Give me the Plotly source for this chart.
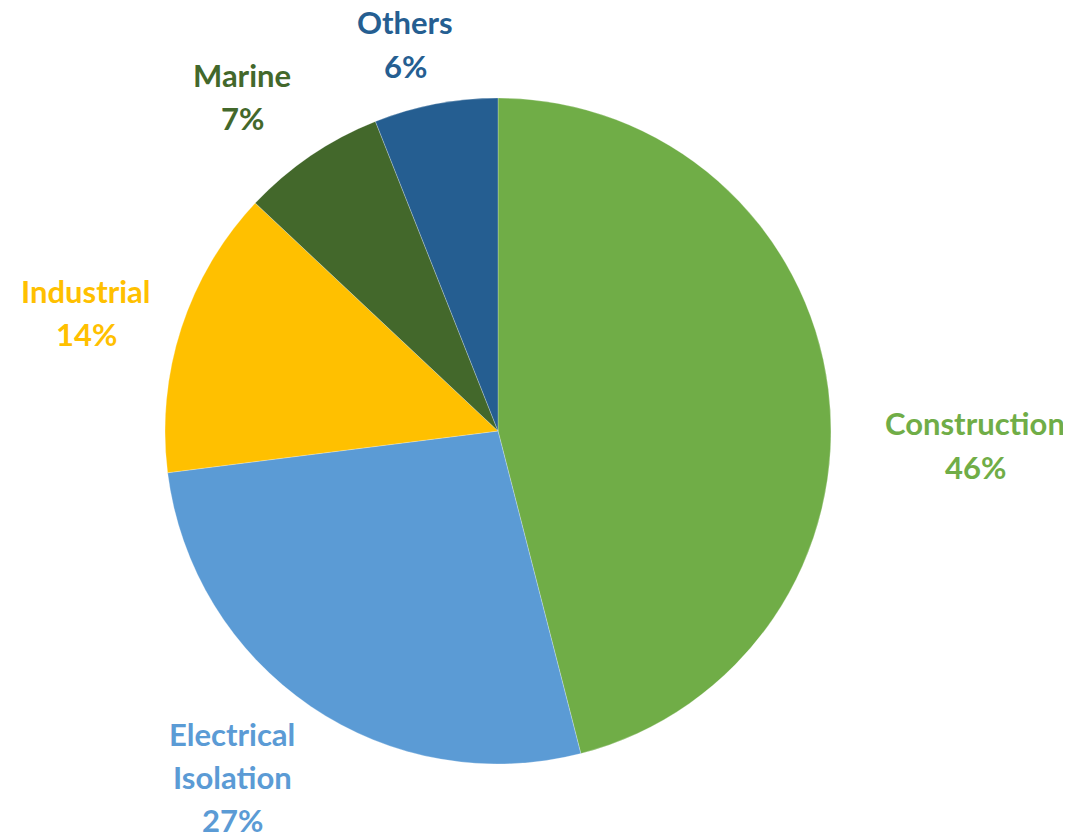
import plotly.graph_objects as go

categories = ["Construction", "Electrical Isolation", "Industrial", "Marine", "Others"]
values = [46, 27, 14, 7, 6]
colors = ["#70AD47", "#5B9BD5", "#FFC000", "#43682B", "#255E91"]

W, H = 1071, 835
OFF = 8  # page body margin offset
cx, cy, r = 498 - OFF, 431 - OFF, 333

# label text-line layout (pixel centres of each text line in the screenshot)
label_lines = {
    "Construction": [("Construction", 975, 423), ("46%", 975, 467)],
    "Electrical Isolation": [("Electrical", 232, 734), ("Isolation", 232, 777), ("27%", 232, 820)],
    "Industrial": [("Industrial", 86, 291), ("14%", 86, 334)],
    "Marine": [("Marine", 242, 75), ("7%", 242, 118)],
    "Others": [("Others", 405, 22), ("6%", 405, 66)],
}

total = sum(values)
fig = go.Figure(go.Pie(
    labels=categories,
    values=values,
    sort=False,
    direction="clockwise",
    rotation=0,
    textinfo="none",
    hoverinfo="label+percent",
    marker=dict(colors=colors, line=dict(color="rgba(255,255,255,0.5)", width=0.5)),
    domain=dict(x=[(cx - r) / W, (cx + r) / W], y=[1 - (cy + r) / H, 1 - (cy - r) / H]),
    showlegend=False,
))

annotations = []
for cat, val, col in zip(categories, values, colors):
    pct = round(100 * val / total)
    for txt, px, py in label_lines[cat]:
        if txt.endswith("%"):
            txt = f"{pct}%"
        annotations.append(dict(
            x=(px - OFF) / W, y=1 - (py - OFF) / H, xref="paper", yref="paper",
            text=f"<b>{txt}</b>", showarrow=False,
            xanchor="center", yanchor="middle",
            font=dict(family="Lato, Open Sans, sans-serif", size=31, color=col),
        ))

fig.update_layout(
    width=W, height=H,
    margin=dict(l=0, r=0, t=0, b=0),
    paper_bgcolor="white",
    plot_bgcolor="white",
    annotations=annotations,
)

fig.write_html("out.html")
